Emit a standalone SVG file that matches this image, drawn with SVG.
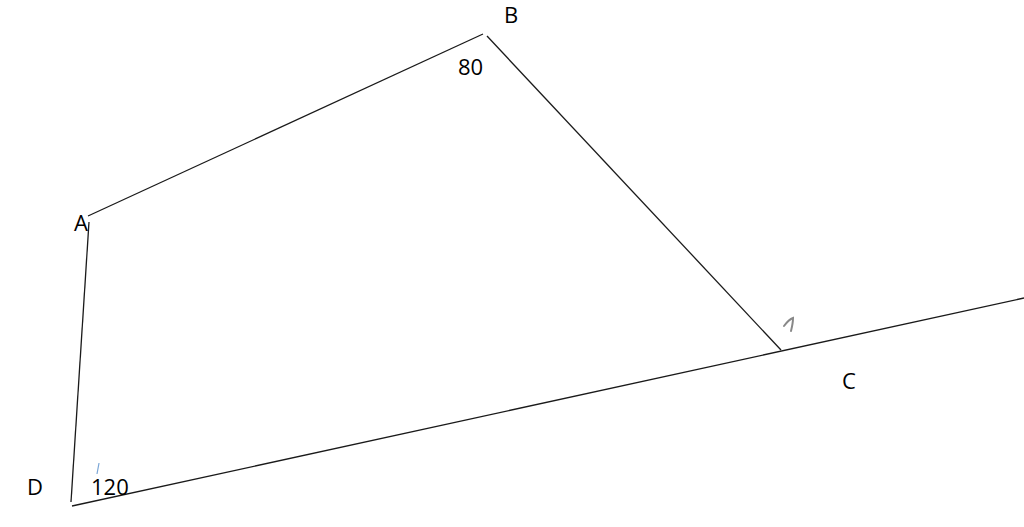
<svg xmlns="http://www.w3.org/2000/svg" width="1024" height="527" viewBox="0 0 1024 527">
<style>
.ln{stroke:#1a1a1a;stroke-width:1.3;fill:none}
.lb{font-family:"Open Sans","Noto Sans",sans-serif;font-size:22px;fill:#000}
</style>
<rect width="1024" height="527" fill="#fff"/>
<g id="connectors">
<line class="ln" x1="88" y1="216" x2="483" y2="34"/>
<line class="ln" x1="487" y1="36" x2="781" y2="350"/>
<line class="ln" x1="89" y1="222" x2="71" y2="502"/>
<line class="ln" x1="72" y1="506" x2="1024" y2="298"/>
</g>
<g id="node-A"><text class="lb" x="74" y="231">A</text></g>
<g id="node-B"><text class="lb" x="504" y="23">B</text><text class="lb" x="458" y="75">80</text></g>
<g id="node-C"><text class="lb" x="842" y="389">C</text>
<path d="M784,326 C787,322 790,319 793,318 C793,322 792,327 791,331" stroke="#888" stroke-width="2" fill="none" stroke-linecap="round"/></g>
<g id="node-D"><text class="lb" x="27" y="495">D</text><text class="lb" x="91" y="495">120</text>
<path d="M99,463 L97,474" stroke="#7aa6d6" stroke-width="1.2" fill="none"/></g>
</svg>
